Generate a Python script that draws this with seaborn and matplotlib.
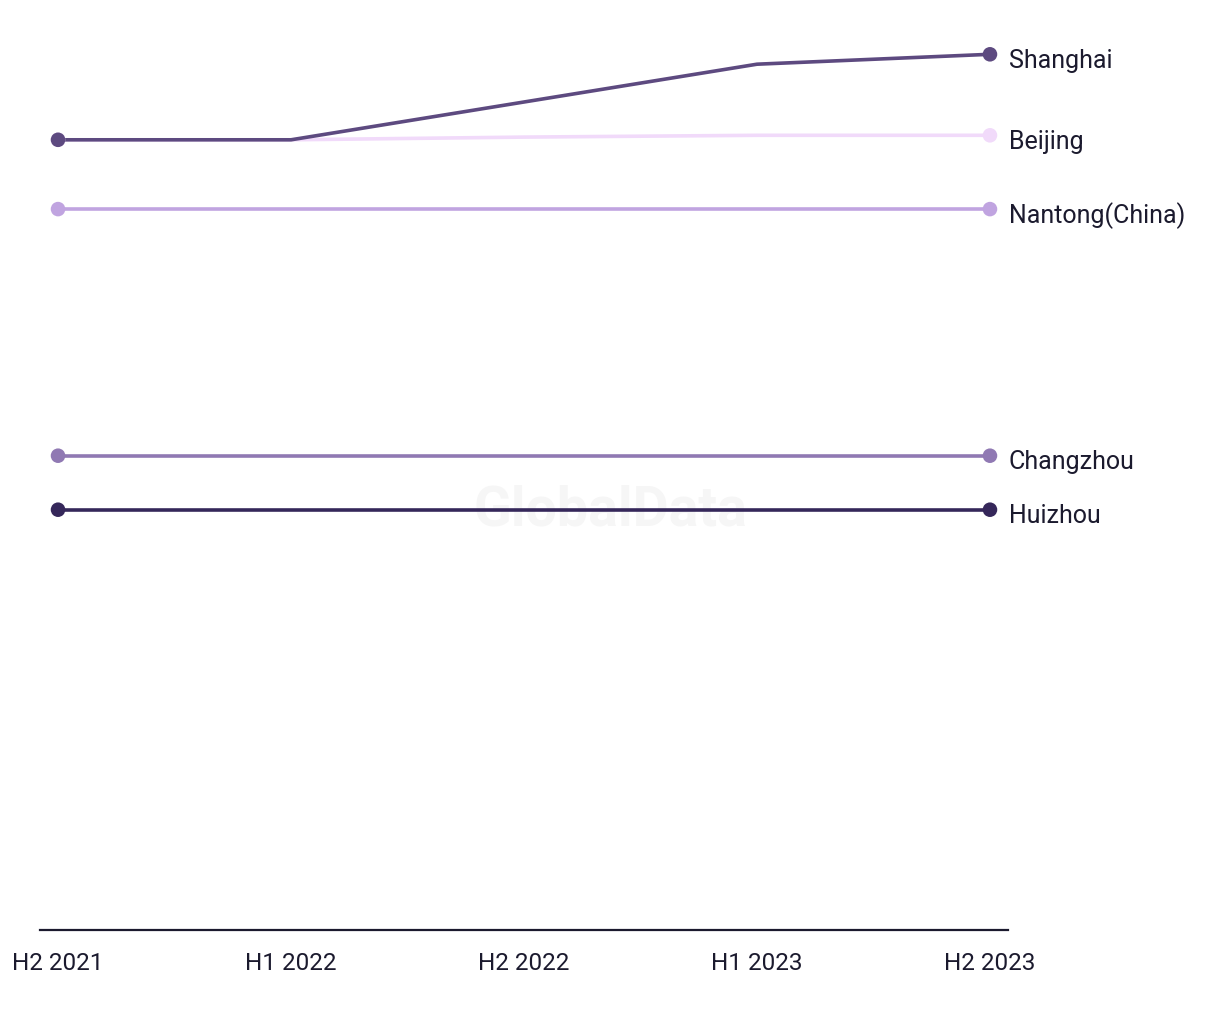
import pandas as pd

import matplotlib
matplotlib.use("Agg")

import matplotlib.pyplot as plt
import seaborn as sns

# -----------------------------
# Data
# -----------------------------
periods = ["H2 2021", "H1 2022", "H2 2022", "H1 2023", "H2 2023"]
cities = ["Huizhou", "Changzhou", "Nantong(China)", "Beijing", "Shanghai"]

huizhou = [46.7, 46.7, 46.7, 46.7, 46.7]
changzhou = [52.7, 52.7, 52.7, 52.7, 52.7]
nantong = [80.1, 80.1, 80.1, 80.1, 80.1]
beijing = [87.8, 87.8, 88.1, 88.3, 88.3]
shanghai = [87.8, 87.8, 92.0, 96.2, 97.3]

colors = {
    "Huizhou": "#35275a",
    "Changzhou": "#9079b3",
    "Nantong(China)": "#c0a4e0",
    "Beijing": "#f1dafa",
    "Shanghai": "#5d4a80",
}

series = {
    "Huizhou": huizhou,
    "Changzhou": changzhou,
    "Nantong(China)": nantong,
    "Beijing": beijing,
    "Shanghai": shanghai,
}

rows = []
for city in cities:
    for i, v in enumerate(series[city]):
        rows.append({"city": city, "x": i, "period": periods[i], "value": v})
df = pd.DataFrame(rows)

ends = df[df["x"].isin([0, len(periods) - 1])]

# -----------------------------
# Plot
# -----------------------------
sns.set_style("white")
plt.rcParams["font.family"] = ["Roboto", "DejaVu Sans"]
text_color = "#1b1a2e"

fig = plt.figure(figsize=(12.2, 10.2), dpi=100)
ax = fig.add_axes([40 / 1220, 89 / 1020, 968 / 1220, 900 / 1020])

# watermark (behind the lines)
ax.text(0.5, 1 - 510 / 1020, "GlobalData", transform=fig.transFigure,
        ha="center", va="center", fontsize=40, fontweight="bold",
        color="#f6f6f6", zorder=0)

sns.lineplot(data=df, x="x", y="value", hue="city", hue_order=cities,
             palette=colors, linewidth=2.6, legend=False, ax=ax, zorder=2)

for city in cities:
    sub = ends[ends["city"] == city]
    sns.scatterplot(data=sub, x="x", y="value", color=colors[city], s=110,
                    edgecolor="none", legend=False, ax=ax, zorder=3)
    last = series[city][-1]
    ax.annotate(city, (len(periods) - 1, last), xytext=(13.5, -4),
                textcoords="offset points", ha="left", va="center",
                fontsize=18, color=text_color, annotation_clip=False)

ax.set_xlim(-0.0774, 4.0774)
ax.set_ylim(0, 100)
ax.set_xticks(range(len(periods)))
ax.set_xticklabels(periods, fontsize=17.5, color=text_color)
ax.set_yticks([])
ax.set_xlabel("")
ax.set_ylabel("")
ax.tick_params(axis="x", length=0, pad=15)

for side in ["top", "right", "left"]:
    ax.spines[side].set_visible(False)
ax.spines["bottom"].set_color(text_color)
ax.spines["bottom"].set_linewidth(1.6)

plt.savefig("out.png", dpi=100)
plt.close()
